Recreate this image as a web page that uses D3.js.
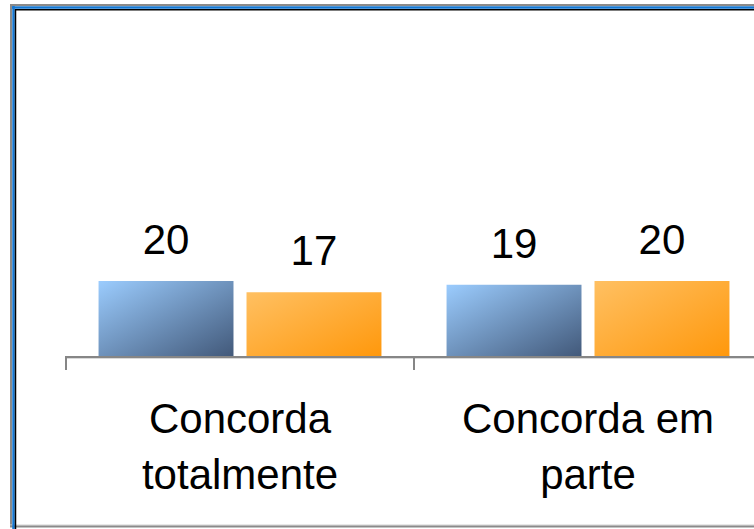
<!DOCTYPE html>
<html>
<head>
<meta charset="utf-8">
<script src="https://cdn.jsdelivr.net/npm/d3@7"></script>
<style>
  body { margin: 0; background: #fff; }
  svg { display: block; }
</style>
</head>
<body>
<div id="chart"></div>
<script>
  'use strict';

  // data
  const categories = ['Concorda totalmente', 'Concorda em parte'];
  const categoryLines = [['Concorda', 'totalmente'], ['Concorda em', 'parte']];
  const series = ['s1', 's2'];
  const valuesS1 = [20, 19];
  const valuesS2 = [17, 20];

  const W = 754, H = 529;
  const baseY = 356;

  const svg = d3.select('#chart').append('svg')
    .attr('width', W)
    .attr('height', H);

  const defs = svg.append('defs');
  const grads = [
    { id: 'gBlue', from: '#9bccfe', to: '#42597a' },
    { id: 'gOrange', from: '#ffc062', to: '#ff980c' }
  ];
  grads.forEach(g => {
    const lg = defs.append('linearGradient')
      .attr('id', g.id)
      .attr('x1', 0).attr('y1', 0).attr('x2', 1).attr('y2', 1);
    lg.append('stop').attr('offset', '0%').attr('stop-color', g.from);
    lg.append('stop').attr('offset', '100%').attr('stop-color', g.to);
  });

  // frame (gray / blue / black)
  const frame = svg.append('g');
  frame.append('line').attr('x1', 11).attr('x2', 11).attr('y1', 4).attr('y2', 527)
    .attr('stroke', '#8a8a8a').attr('stroke-width', 2);
  frame.append('line').attr('x1', 10).attr('x2', W).attr('y1', 5).attr('y2', 5)
    .attr('stroke', '#8a8a8a').attr('stroke-width', 2);
  frame.append('line').attr('x1', 10).attr('x2', W).attr('y1', 525).attr('y2', 525)
    .attr('stroke', '#d0d0d0').attr('stroke-width', 1);
  frame.append('line').attr('x1', 10).attr('x2', W).attr('y1', 526.5).attr('y2', 526.5)
    .attr('stroke', '#8a8a8a').attr('stroke-width', 2);
  frame.append('line').attr('x1', 13.5).attr('x2', 13.5).attr('y1', 6).attr('y2', H)
    .attr('stroke', '#1477d2').attr('stroke-width', 2.5);
  frame.append('line').attr('x1', 12).attr('x2', W).attr('y1', 7.5).attr('y2', 7.5)
    .attr('stroke', '#1477d2').attr('stroke-width', 2.5);
  frame.append('line').attr('x1', 15.5).attr('x2', 15.5).attr('y1', 9).attr('y2', H)
    .attr('stroke', '#000').attr('stroke-width', 1.5);
  frame.append('line').attr('x1', 15).attr('x2', W).attr('y1', 9.75).attr('y2', 9.75)
    .attr('stroke', '#000').attr('stroke-width', 1.5);

  // scales
  const x = d3.scaleBand().domain(categories).range([66, 762]);
  const xs = d3.scaleBand().domain(series).range([0, x.bandwidth()])
    .paddingInner(0.088).paddingOuter(0.22);
  const y = d3.scaleLinear().domain([0, 90]).range([baseY, baseY - 337.5]);

  const rows = categories.map((c, i) => ({ cat: c, vals: [valuesS1[i], valuesS2[i]] }));

  const groups = svg.append('g').selectAll('g')
    .data(rows)
    .enter()
    .append('g')
    .attr('transform', d => `translate(${x(d.cat)},0)`);

  groups.selectAll('rect')
    .data(d => d.vals.map((v, j) => ({ s: series[j], v: v })))
    .enter()
    .append('rect')
    .attr('x', d => xs(d.s))
    .attr('y', d => y(d.v))
    .attr('width', xs.bandwidth())
    .attr('height', d => baseY - y(d.v))
    .attr('fill', (d, j) => `url(#${grads[j].id})`);

  groups.selectAll('text.val')
    .data(d => d.vals.map((v, j) => ({ s: series[j], v: v })))
    .enter()
    .append('text')
    .attr('class', 'val')
    .attr('x', d => xs(d.s) + xs.bandwidth() / 2)
    .attr('y', d => y(d.v) - 27)
    .attr('text-anchor', 'middle')
    .attr('font-family', 'Liberation Sans, Arial, sans-serif')
    .attr('font-size', '42px')
    .attr('fill', '#000')
    .text(d => d.v);

  // axis line with light shadow and ticks
  const axis = svg.append('g');
  axis.append('line').attr('x1', x.range()[0]).attr('x2', x.range()[1])
    .attr('y1', baseY + 2.5).attr('y2', baseY + 2.5)
    .attr('stroke', '#d9d9d9').attr('stroke-width', 1);
  axis.append('line').attr('x1', x.range()[0] - 1).attr('x2', x.range()[1])
    .attr('y1', baseY + 1).attr('y2', baseY + 1)
    .attr('stroke', '#868686').attr('stroke-width', 2);
  const tickPos = categories.map(c => x(c)).concat([x.range()[1]]);
  axis.selectAll('line.tick')
    .data(tickPos)
    .enter()
    .append('line')
    .attr('class', 'tick')
    .attr('x1', d => d).attr('x2', d => d)
    .attr('y1', baseY).attr('y2', baseY + 14)
    .attr('stroke', '#868686').attr('stroke-width', 2);

  // category labels
  const catLabels = svg.append('g').selectAll('text')
    .data(categories)
    .enter()
    .append('text')
    .attr('text-anchor', 'middle')
    .attr('font-family', 'Liberation Sans, Arial, sans-serif')
    .attr('font-size', '42px')
    .attr('fill', '#000');

  catLabels.selectAll('tspan')
    .data((d, i) => categoryLines[i].map(t => ({ t: t, cx: x(d) + x.bandwidth() / 2 })))
    .enter()
    .append('tspan')
    .attr('x', d => d.cx)
    .attr('y', (d, k) => 433 + k * 56)
    .text(d => d.t);
</script>
</body>
</html>
